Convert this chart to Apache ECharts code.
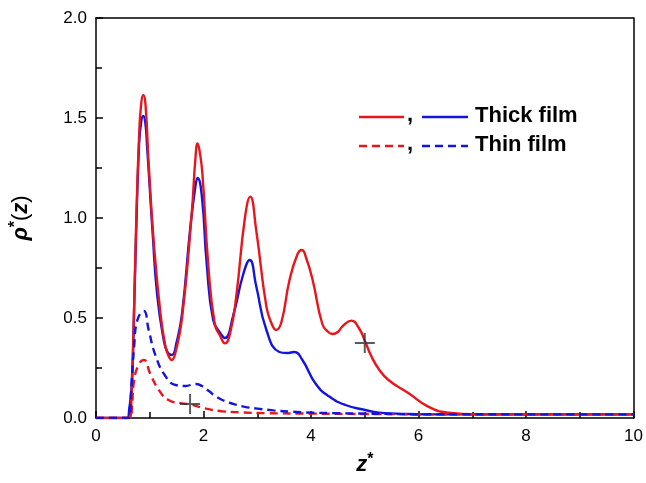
<!DOCTYPE html>
<html>
<head>
<meta charset="utf-8">
<script src="https://cdn.jsdelivr.net/npm/echarts@6/dist/echarts.min.js"></script>
<style>
  html, body { margin: 0; padding: 0; background: #fff; }
  #chart { width: 646px; height: 483px; }
</style>
</head>
<body>
<div id="chart"></div>
<script>
// 厚膜 - 红色实线
const thickRedZ = [0, 0.62, 0.66, 0.7, 0.74, 0.8, 0.84, 0.88, 0.92, 0.98, 1.08, 1.2, 1.29, 1.35, 1.41, 1.48, 1.6, 1.78, 1.85, 1.89, 1.93, 1.98, 2.09, 2.21, 2.31, 2.4, 2.5, 2.61, 2.77, 2.87, 2.98, 3.17, 3.27, 3.35, 3.45, 3.6, 3.75, 3.83, 3.91, 4.03, 4.21, 4.32, 4.4, 4.5, 4.58, 4.75, 4.89, 5.01, 5.12, 5.26, 5.44, 5.81, 6.18, 6.55, 7.1, 8, 10];
const thickRedV = [0, 0, 0.1, 0.45, 0.9, 1.4, 1.57, 1.615, 1.57, 1.27, 0.86, 0.52, 0.36, 0.31, 0.29, 0.33, 0.5, 1.02, 1.3, 1.373, 1.33, 1.22, 0.76, 0.47, 0.41, 0.373, 0.43, 0.61, 1.0, 1.107, 0.94, 0.557, 0.47, 0.44, 0.48, 0.69, 0.82, 0.84, 0.8, 0.69, 0.47, 0.43, 0.42, 0.43, 0.457, 0.487, 0.45, 0.38, 0.31, 0.245, 0.19, 0.125, 0.057, 0.027, 0.018, 0.018, 0.018];
// 厚膜 - 蓝色实线
const thickBlueZ = [0, 0.58, 0.62, 0.66, 0.7, 0.74, 0.8, 0.84, 0.88, 0.92, 0.95, 1.0, 1.05, 1.14, 1.26, 1.33, 1.41, 1.5, 1.6, 1.75, 1.85, 1.89, 1.97, 2.06, 2.18, 2.31, 2.4, 2.55, 2.74, 2.86, 2.98, 3.17, 3.41, 3.55, 3.69, 3.84, 4.09, 4.34, 4.64, 5.01, 5.26, 5.6, 6.2, 10];
const thickBlueV = [0, 0, 0.05, 0.15, 0.45, 0.86, 1.36, 1.48, 1.51, 1.47, 1.36, 1.15, 0.94, 0.61, 0.39, 0.33, 0.315, 0.38, 0.52, 0.94, 1.16, 1.2, 1.107, 0.77, 0.49, 0.425, 0.4, 0.51, 0.72, 0.79, 0.66, 0.44, 0.33, 0.325, 0.33, 0.29, 0.17, 0.107, 0.065, 0.04, 0.027, 0.022, 0.018, 0.018];
// 薄膜 - 红色虚线
const thinRedZ = [0, 0.64, 0.67, 0.71, 0.8, 0.89, 1.01, 1.17, 1.35, 1.6, 1.75, 2.03, 2.34, 2.7, 3.2, 4, 5, 6, 10];
const thinRedV = [0, 0, 0.06, 0.19, 0.27, 0.29, 0.22, 0.14, 0.09, 0.073, 0.068, 0.048, 0.034, 0.028, 0.024, 0.022, 0.02, 0.019, 0.018];
// 薄膜 - 蓝色虚线
const thinBlueZ = [0, 0.61, 0.65, 0.71, 0.77, 0.89, 0.98, 1.11, 1.29, 1.48, 1.66, 1.85, 1.97, 2.1, 2.22, 2.35, 2.5, 2.75, 3.0, 3.3, 3.6, 4.0, 4.5, 5, 6, 10];
const thinBlueV = [0, 0, 0.12, 0.36, 0.49, 0.535, 0.44, 0.31, 0.21, 0.165, 0.16, 0.17, 0.16, 0.135, 0.11, 0.09, 0.075, 0.057, 0.047, 0.038, 0.032, 0.027, 0.024, 0.022, 0.019, 0.018];
// 十字标记
const markerZ = [1.75, 5.0];
const markerV = [0.07, 0.375];

const RED = '#e8161c';
const BLUE = '#1414dc';
const zip = (a, b) => a.map((v, i) => [v, b[i]]);

const chart = echarts.init(document.getElementById('chart'));

const lineSeries = (data, color, dashed) => ({
    type: 'line',
    data: data,
    smooth: 0.5,
    symbol: 'none',
    lineStyle: { color: color, width: 2.4, type: dashed ? [8, 5] : 'solid' },
    z: dashed ? 3 : 2
});

const frameAxis = {
    axisLine: { show: true, onZero: false, lineStyle: { color: '#000', width: 1.5 } },
    axisTick: { show: false }, axisLabel: { show: false }, splitLine: { show: false }
};

const options = {
    animation: false,
    grid: { left: 95, right: 9, top: 18, bottom: 65, containLabel: false },
    xAxis: [{
        type: 'value',
        min: 0, max: 10, interval: 2,
        name: '{b|z}{s|*}',
        nameLocation: 'middle',
        nameGap: 34,
        nameTextStyle: {
            rich: {
                b: { fontFamily: 'Liberation Sans', fontWeight: 'bold', fontStyle: 'italic', fontSize: 22, color: '#000' },
                s: { fontFamily: 'Liberation Sans', fontWeight: 'bold', fontSize: 16, color: '#000', verticalAlign: 'top', padding: [0, 0, 10, 0] }
            }
        },
        axisLine: { onZero: false, lineStyle: { color: '#000', width: 1.5 } },
        axisTick: { inside: true, length: 7, lineStyle: { color: '#000', width: 1.5 } },
        minorTick: { show: true, splitNumber: 2, length: 6, lineStyle: { color: '#000', width: 1.5 } },
        axisLabel: { fontFamily: 'Liberation Sans', fontSize: 17, color: '#000', margin: 10 },
        splitLine: { show: false }
    }, Object.assign({ type: 'value', position: 'top', min: 0, max: 10 }, frameAxis)],
    yAxis: [{
        type: 'value',
        min: 0, max: 2, interval: 0.5,
        name: '{b|ρ}{s|*}{p|(}{b|z}{p|)}',
        nameLocation: 'middle',
        nameGap: 62,
        nameTextStyle: {
            rich: {
                b: { fontFamily: 'Liberation Sans', fontWeight: 'bold', fontStyle: 'italic', fontSize: 22, color: '#000' },
                p: { fontFamily: 'Liberation Sans', fontSize: 22, color: '#000' },
                s: { fontFamily: 'Liberation Sans', fontWeight: 'bold', fontSize: 16, color: '#000', verticalAlign: 'top', padding: [0, 0, 10, 0] }
            }
        },
        axisLine: { show: true, onZero: false, lineStyle: { color: '#000', width: 1.5 } },
        axisTick: { inside: true, length: 7, lineStyle: { color: '#000', width: 1.5 } },
        minorTick: { show: true, splitNumber: 2, length: 6, lineStyle: { color: '#000', width: 1.5 } },
        axisLabel: { fontFamily: 'Liberation Sans', fontSize: 17, color: '#000', margin: 9, formatter: v => v.toFixed(1) },
        splitLine: { show: false }
    }, Object.assign({ type: 'value', position: 'right', min: 0, max: 2 }, frameAxis)],
    series: [
        lineSeries(zip(thickBlueZ, thickBlueV), BLUE, false),
        lineSeries(zip(thickRedZ, thickRedV), RED, false),
        lineSeries(zip(thinRedZ, thinRedV), RED, true),
        lineSeries(zip(thinBlueZ, thinBlueV), BLUE, true),
        {
            type: 'scatter',
            data: zip(markerZ, markerV),
            symbol: 'path://M9,0h2v20h-2zM0,9h20v2h-20z',
            symbolSize: 20,
            itemStyle: { color: '#333' },
            z: 5
        }
    ],
    // 图例：手绘
    graphic: [
        { type: 'line', shape: { x1: 359, y1: 117, x2: 404, y2: 117 }, style: { stroke: RED, lineWidth: 2.4 } },
        { type: 'text', left: 407, top: 104, style: { text: ',', font: 'bold 22px "Liberation Sans"', fill: '#000' } },
        { type: 'line', shape: { x1: 422, y1: 117, x2: 468, y2: 117 }, style: { stroke: BLUE, lineWidth: 2.4 } },
        { type: 'text', left: 475, top: 105, style: { text: 'Thick film', font: 'bold 22px "Liberation Sans"', fill: '#000' } },
        { type: 'line', shape: { x1: 359, y1: 146, x2: 404, y2: 146 }, style: { stroke: RED, lineWidth: 2.4, lineDash: [8, 5] } },
        { type: 'text', left: 407, top: 133, style: { text: ',', font: 'bold 22px "Liberation Sans"', fill: '#000' } },
        { type: 'line', shape: { x1: 422, y1: 146, x2: 468, y2: 146 }, style: { stroke: BLUE, lineWidth: 2.4, lineDash: [8, 5] } },
        { type: 'text', left: 475, top: 134, style: { text: 'Thin film', font: 'bold 22px "Liberation Sans"', fill: '#000' } }
    ]
};

chart.setOption(options);
</script>
</body>
</html>
